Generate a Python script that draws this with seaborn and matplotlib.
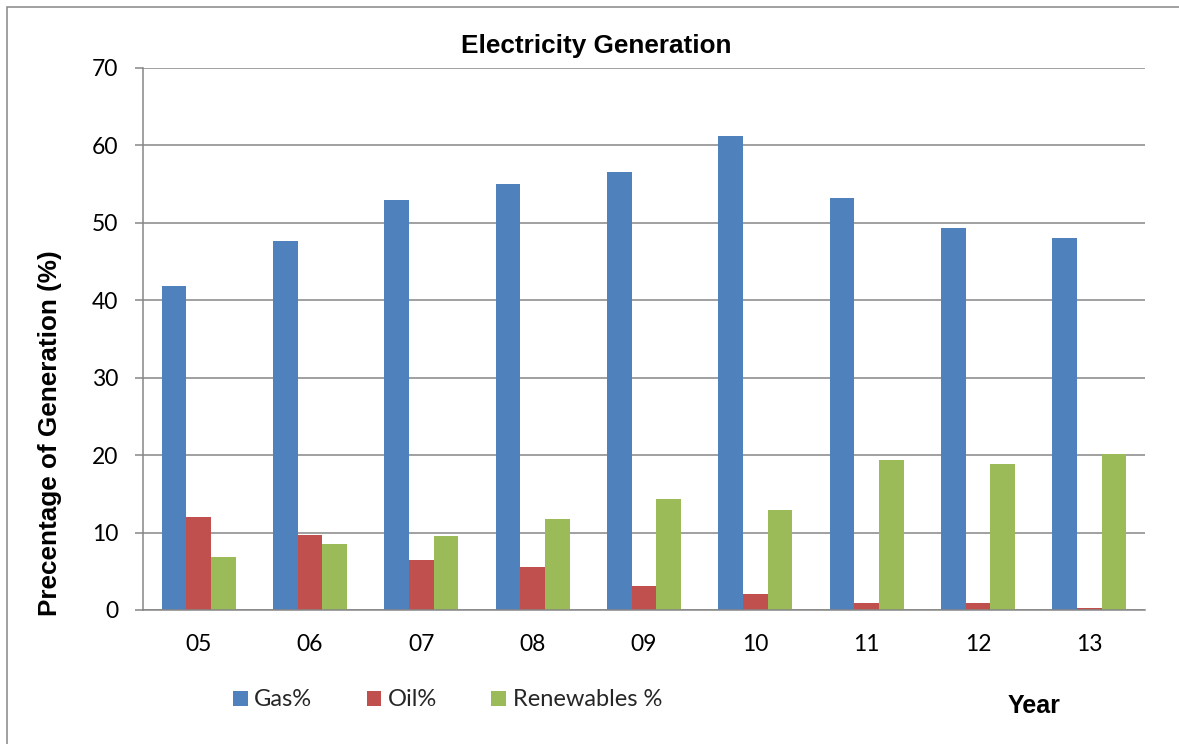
import matplotlib
matplotlib.use("Agg")
import matplotlib.pyplot as plt
from matplotlib.patches import Patch, Rectangle
import pandas as pd
import seaborn as sns

# Share of electricity generation by source, per year
years = ["05", "06", "07", "08", "09", "10", "11", "12", "13"]
gas = [41.8, 47.7, 53.0, 55.0, 56.6, 61.2, 53.2, 49.4, 48.0]
oil = [12.05, 9.7, 6.5, 5.6, 3.15, 2.07, 0.86, 0.86, 0.2]
renewables = [6.8, 8.5, 9.55, 11.75, 14.3, 12.9, 19.4, 18.8, 20.1]
series_names = ["Gas%", "Oil%", "Renewables %"]
colors = ["#4F81BD", "#C0504D", "#9BBB59"]

df = pd.DataFrame({
    "Year": years * 3,
    "Value": gas + oil + renewables,
    "Source": [series_names[0]] * len(years)
    + [series_names[1]] * len(years)
    + [series_names[2]] * len(years),
})

sns.set_theme(style="white")
plt.rcParams["font.family"] = ["Lato", "DejaVu Sans"]

W, H = 1179, 744
fig = plt.figure(figsize=(W / 100, H / 100), dpi=100)
ax = fig.add_axes([143 / W, 1 - 610 / H, (1145 - 143) / W, (610 - 68) / H])

grid_c = "#868686"
sns.barplot(
    data=df, x="Year", y="Value", hue="Source", order=years,
    hue_order=series_names, palette=colors, width=0.662,
    linewidth=0, saturation=1, legend=False, ax=ax,
)

ax.set_xlim(-0.5, len(years) - 0.5)
ax.set_ylim(0, 70)
ax.set_yticks(range(0, 71, 10))
ax.yaxis.grid(True, color=grid_c, linewidth=1.1)
ax.set_axisbelow(True)
ax.set_xlabel("")
ax.set_ylabel("")

for side in ["top", "right"]:
    ax.spines[side].set_visible(False)
for side in ["left", "bottom"]:
    ax.spines[side].set_color(grid_c)
    ax.spines[side].set_linewidth(1.1)

ax.tick_params(axis="y", direction="out", length=5.8, width=1.1,
               color=grid_c, pad=12, labelsize=16.5, left=True)
ax.tick_params(axis="x", length=0, pad=17, labelsize=16.5)
for lab in ax.get_xticklabels() + ax.get_yticklabels():
    lab.set_color("black")

bold = dict(family=["Liberation Sans", "DejaVu Sans"], weight="bold", color="black")
fig.text(596.5 / W, 1 - 53 / H, "Electricity Generation", ha="center",
         va="baseline", fontsize=18.8, **bold)
fig.text(50.5 / W, 1 - 433 / H, "Precentage of Generation (%)", rotation=90,
         ha="center", va="center", fontsize=18.8, **bold)
fig.text(1034 / W, 1 - 713 / H, "Year", ha="center", va="baseline",
         fontsize=18, **bold)

handles = [Patch(facecolor=c, edgecolor="none") for c in colors]
fig.legend(handles, series_names, loc="center left",
           bbox_to_anchor=(233 / W, 1 - 700 / H), ncol=3, frameon=False,
           fontsize=17, handlelength=0.62, handleheight=0.62,
           handletextpad=0.28, columnspacing=2.3, borderpad=0, borderaxespad=0)

# Outer chart frame
fig.patches.append(Rectangle((7 / W, -0.05), 1.1, 1 - 7 / H + 0.05,
                             transform=fig.transFigure, fill=False,
                             edgecolor=grid_c, linewidth=1.1, zorder=0))

fig.savefig("out.png", dpi=100)
